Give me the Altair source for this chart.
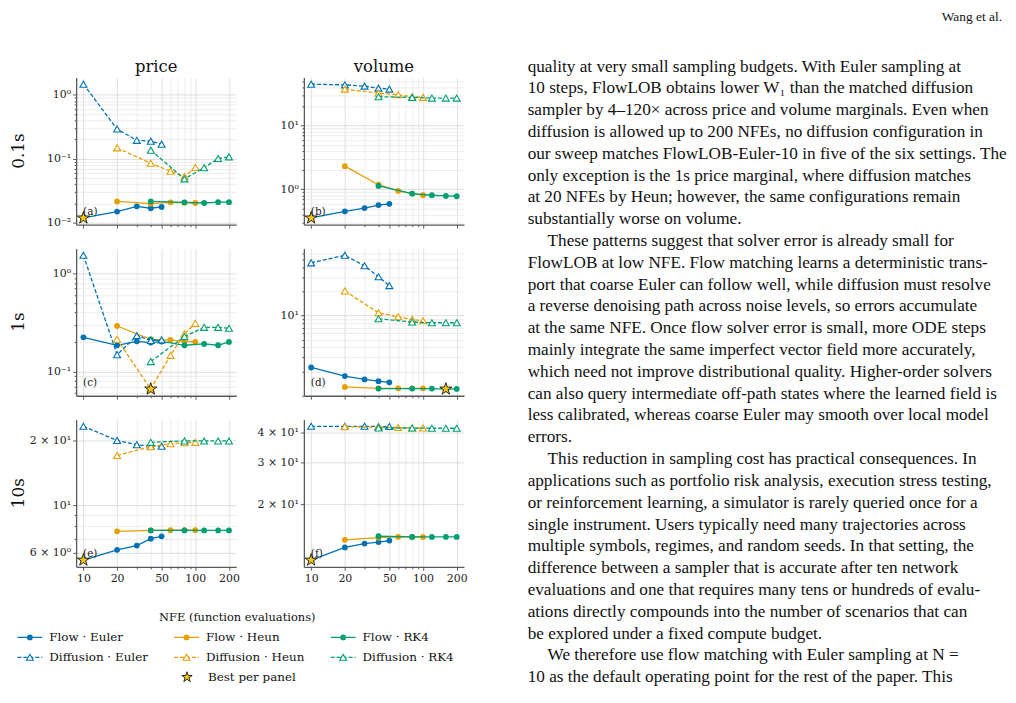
import math
import altair as alt
import numpy as np
import pandas as pd

# ---------------- data ----------------
NFE_EULER = [10, 20, 30, 40, 50]
NFE_HEUN = [20, 40, 60, 80, 100]
NFE_RK4 = [40, 80, 120, 160, 200]

PRICE_01S = {
    "Flow · Euler": [0.0119, 0.0150, 0.0181, 0.0169, 0.0177],
    "Flow · Heun": [0.0216, 0.0199, 0.0209, 0.0206, 0.0204],
    "Flow · RK4": [0.0216, 0.0209, 0.0204, 0.0210, 0.0210],
    "Diffusion · Euler": [1.46, 0.291, 0.194, 0.188, 0.169],
    "Diffusion · Heun": [0.148, 0.085, 0.064, 0.0527, 0.073],
    "Diffusion · RK4": [0.136, 0.0485, 0.0726, 0.101, 0.107],
}
VOLUME_01S = {
    "Flow · Euler": [0.354, 0.45, 0.507, 0.564, 0.592],
    "Flow · Heun": [2.31, 1.18, 0.942, 0.857, 0.807],
    "Flow · RK4": [1.13, 0.857, 0.807, 0.787, 0.778],
    "Diffusion · Euler": [45.0, 43.9, 41.9, 39.0, 37.6],
    "Diffusion · Heun": [37.6, 32.6, 30.7, 28.6, 27.9],
    "Diffusion · RK4": [28.6, 27.9, 27.2, 27.2, 27.2],
}
PRICE_1S = {
    "Flow · Euler": [0.223, 0.185, 0.203, 0.197, 0.202],
    "Flow · Heun": [0.291, 0.213, 0.210, 0.203, 0.200],
    "Flow · RK4": [0.213, 0.185, 0.191, 0.185, 0.200],
    "Diffusion · Euler": [1.54, 0.148, 0.232, 0.207, 0.210],
    "Diffusion · Heun": [0.213, 0.066, 0.146, 0.242, 0.310],
    "Diffusion · RK4": [0.126, 0.227, 0.282, 0.282, 0.276],
}
VOLUME_1S = {
    "Flow · Euler": [2.24, 1.75, 1.59, 1.51, 1.46],
    "Flow · Heun": [1.28, 1.23, 1.23, 1.23, 1.23],
    "Flow · RK4": [1.22, 1.22, 1.22, 1.205, 1.21],
    "Diffusion · Euler": [45.4, 56.5, 41.7, 30.4, 23.6],
    "Diffusion · Heun": [20.2, 10.8, 9.62, 8.92, 8.59],
    "Diffusion · RK4": [9.1, 8.27, 8.11, 8.11, 8.11],
}
PRICE_10S = {
    "Flow · Euler": [5.56, 6.21, 6.5, 7.0, 7.18],
    "Flow · Heun": [7.57, 7.65, 7.67, 7.67, 7.67],
    "Flow · RK4": [7.65, 7.65, 7.65, 7.65, 7.65],
    "Diffusion · Euler": [23.4, 20.1, 19.2, 18.9, 18.9],
    "Diffusion · Heun": [17.1, 18.8, 19.4, 19.6, 19.7],
    "Diffusion · RK4": [19.7, 20.0, 20.0, 20.0, 20.0],
}
VOLUME_10S = {
    "Flow · Euler": [11.67, 13.2, 13.7, 13.9, 14.1],
    "Flow · Heun": [14.2, 14.5, 14.6, 14.6, 14.6],
    "Flow · RK4": [14.7, 14.6, 14.6, 14.6, 14.6],
    "Diffusion · Euler": [42.6, 42.6, 42.6, 42.5, 42.5],
    "Diffusion · Heun": [42.4, 42.2, 42.1, 41.9, 41.9],
    "Diffusion · RK4": [41.9, 41.9, 41.8, 41.8, 41.8],
}

METHODS = ["Flow", "Diffusion"]
SOLVERS = ["Euler", "Heun", "RK4"]
NFE_BY_SOLVER = {"Euler": NFE_EULER, "Heun": NFE_HEUN, "RK4": NFE_RK4}
HORIZONS = ["0.1s", "1s", "10s"]
MARGINALS = ["price", "volume"]
PANEL_TAGS = ["(a)", "(b)", "(c)", "(d)", "(e)", "(f)"]
PANEL_VALUES = [PRICE_01S, VOLUME_01S, PRICE_1S, VOLUME_1S, PRICE_10S, VOLUME_10S]

Y_TICK_LABELS = [
    {0.01: "10⁻²", 0.1: "10⁻¹", 1: "10⁰"},
    {1: "10⁰", 10: "10¹"},
    {0.1: "10⁻¹", 1: "10⁰"},
    {10: "10¹"},
    {6: "6 × 10⁰", 10: "10¹", 20: "2 × 10¹"},
    {20: "2 × 10¹", 30: "3 × 10¹", 40: "4 × 10¹"},
]
X_TICKS = [10, 20, 30, 40, 50, 60, 70, 80, 90, 100, 200]
X_LABELED = [10, 20, 50, 100, 200]
X_LABEL = "NFE (function evaluations)"
BEST_LABEL = "Best per panel"

HEADER = "Wang et al."
TEXT_LINES = [
    "quality at very small sampling budgets. With Euler sampling at",
    "10 steps, FlowLOB obtains lower W\u2081 than the matched diffusion",
    "sampler by 4\u2013120\u00d7 across price and volume marginals. Even when",
    "diffusion is allowed up to 200 NFEs, no diffusion configuration in",
    "our sweep matches FlowLOB-Euler-10 in five of the six settings. The",
    "only exception is the 1s price marginal, where diffusion matches",
    "at 20 NFEs by Heun; however, the same configurations remain",
    "substantially worse on volume.",
    "These patterns suggest that solver error is already small for",
    "FlowLOB at low NFE. Flow matching learns a deterministic trans-",
    "port that coarse Euler can follow well, while diffusion must resolve",
    "a reverse denoising path across noise levels, so errors accumulate",
    "at the same NFE. Once flow solver error is small, more ODE steps",
    "mainly integrate the same imperfect vector field more accurately,",
    "which need not improve distributional quality. Higher-order solvers",
    "can also query intermediate off-path states where the learned field is",
    "less calibrated, whereas coarse Euler may smooth over local model",
    "errors.",
    "This reduction in sampling cost has practical consequences. In",
    "applications such as portfolio risk analysis, execution stress testing,",
    "or reinforcement learning, a simulator is rarely queried once for a",
    "single instrument. Users typically need many trajectories across",
    "multiple symbols, regimes, and random seeds. In that setting, the",
    "difference between a sampler that is accurate after ten network",
    "evaluations and one that requires many tens or hundreds of evalu-",
    "ations directly compounds into the number of scenarios that can",
    "be explored under a fixed compute budget.",
    "We therefore use flow matching with Euler sampling at N =",
    "10 as the default operating point for the rest of the paper. This",
]
PARAGRAPH_STARTS = [9, 19, 28]

# ---------------- styles ----------------
SOLVER_COLORS = {"Euler": "#0072B2", "Heun": "#E69F00", "RK4": "#009E73"}
STAR_FILL = "#F5C518"
GRID_MAJOR = "#d6d6d6"
GRID_MINOR = "#e8e8e8"
AX_COLOR = "#595959"
SERIF = "DejaVu Serif"
BODY = "Liberation Serif"
PW, PH = 161, 148


def star_path():
    pts = []
    for k in range(10):
        r = 1.0 if k % 2 == 0 else 0.382
        a = math.pi / 2 + k * math.pi / 5
        pts.append((r * math.cos(a), -r * math.sin(a)))
    return "M" + "L".join(f"{x:.4f},{y:.4f}" for x, y in pts) + "Z"


STAR = star_path()


def near_any(vals):
    return " || ".join(f"abs(datum.value / {v} - 1) < 1e-6" for v in vals)


def label_expr(mapping):
    expr = "''"
    for v, s in sorted(mapping.items(), reverse=True):
        expr = f"abs(datum.value / {v} - 1) < 1e-6 ? '{s}' : ({expr})"
    return expr


def panel_frame(i):
    rows = []
    for method in METHODS:
        for solver in SOLVERS:
            name = f"{method} · {solver}"
            for n, v in zip(NFE_BY_SOLVER[solver], PANEL_VALUES[i][name]):
                rows.append({"method": method, "solver": solver, "nfe": n, "value": v})
    return pd.DataFrame(rows)


def log_domain(vmin, vmax, frac=0.05):
    lo, hi = math.log10(vmin), math.log10(vmax)
    pad = frac * (hi - lo)
    return [10 ** (lo - pad), 10 ** (hi + pad)]


X_DOMAIN = log_domain(min(X_TICKS), max(X_TICKS))


def make_panel(i):
    row, col = divmod(i, 2)
    df = panel_frame(i)
    ydom = log_domain(df["value"].min(), df["value"].max())
    yticks = []
    for e in range(-3, 3):
        for k in range(1, 10):
            v = round(k * 10.0 ** e, 8)
            if ydom[0] <= v <= ydom[1]:
                yticks.append(v)
    labeled = Y_TICK_LABELS[i]
    ymajor = near_any(list(labeled.keys()))
    xmajor = f"indexof({X_LABELED}, datum.value) >= 0"

    x_axis = alt.Axis(
        values=X_TICKS,
        labels=(row == 2),
        labelExpr=f"{xmajor} ? '' + datum.value : ''",
        labelFont=SERIF,
        labelFontSize=11,
        title=None,
        tickSize={"condition": {"test": xmajor, "value": 3.5}, "value": 2},
        gridColor={"condition": {"test": xmajor, "value": GRID_MAJOR}, "value": GRID_MINOR},
    )
    y_axis = alt.Axis(
        values=yticks,
        labelExpr=label_expr(labeled),
        labelFont=SERIF,
        labelFontSize=11,
        title=None,
        tickSize={"condition": {"test": ymajor, "value": 3.5}, "value": 2},
        gridColor={"condition": {"test": ymajor, "value": GRID_MAJOR}, "value": GRID_MINOR},
    )
    x_enc = alt.X("nfe:Q", scale=alt.Scale(type="log", domain=X_DOMAIN, nice=False), axis=x_axis)
    y_enc = alt.Y("value:Q", scale=alt.Scale(type="log", domain=ydom, nice=False, zero=False), axis=y_axis)

    layers = []
    for method in METHODS:
        for solver in SOLVERS:
            sdf = df[(df["method"] == method) & (df["solver"] == solver)]
            c = SOLVER_COLORS[solver]
            base = alt.Chart(sdf).encode(x=x_enc, y=y_enc)
            if method == "Flow":
                layers.append(base.mark_line(color=c, strokeWidth=1.3))
                layers.append(base.mark_point(shape="circle", filled=True, color=c, size=34, opacity=1))
            else:
                layers.append(base.mark_line(color=c, strokeWidth=1.3, strokeDash=[4, 2]))
                layers.append(base.mark_point(shape="triangle-up", filled=True, fill="white",
                                              stroke=c, strokeWidth=1.1, size=49, opacity=1))
    best = df.loc[[df["value"].idxmin()]]
    layers.append(
        alt.Chart(best).mark_point(shape=STAR, filled=True, fill=STAR_FILL, stroke="black",
                                   strokeWidth=0.8, size=165, opacity=1).encode(x=x_enc, y=y_enc)
    )
    meta = pd.DataFrame({"tag": [PANEL_TAGS[i]], "title": [MARGINALS[col]], "horizon": [HORIZONS[row]]})
    layers.append(
        alt.Chart(meta).mark_text(align="left", baseline="middle", font=SERIF, fontSize=10.5, color="#222")
        .encode(x=alt.value(7), y=alt.value(PH - 13), text="tag:N")
    )
    if row == 0:
        layers.append(
            alt.Chart(meta).mark_text(align="center", baseline="middle", font=SERIF, fontSize=16.5, color="#111")
            .encode(x=alt.value(PW / 2), y=alt.value(-11), text="title:N")
        )
    if col == 0:
        layers.append(
            alt.Chart(meta).mark_text(align="center", baseline="middle", font=SERIF, fontSize=17, angle=270,
                                      color="#111")
            .encode(x=alt.value(-57), y=alt.value(PH / 2), text="horizon:N")
        )
    return alt.layer(*layers).properties(width=PW, height=PH)


panels = [make_panel(i) for i in range(6)]
grid = alt.concat(*panels, columns=2, spacing={"row": 17, "column": 16}).resolve_scale(
    x="independent", y="independent"
)

# ---------------- legend block ----------------
leg_rows = []
for si, solver in enumerate(SOLVERS):
    for mi, method in enumerate(METHODS):
        leg_rows.append({"label": f"{method} · {solver}", "method": method, "solver": solver,
                         "col": si, "row": mi})
leg_df = pd.DataFrame(leg_rows)
best_df = pd.DataFrame([{"label": BEST_LABEL, "col": 1, "row": 2}])
xl_df = pd.DataFrame([{"label": X_LABEL}])

lx = alt.X("col:Q", scale=alt.Scale(domain=[0, 2], range=[-59, 256], nice=False, zero=False), axis=None)
lx2 = alt.X2("col:Q")
ly = alt.Y("row:Q", scale=alt.Scale(domain=[0, 2], range=[19, 59], nice=False, zero=False), axis=None)
lcolor = alt.Color("solver:N", scale=alt.Scale(domain=SOLVERS, range=[SOLVER_COLORS[s] for s in SOLVERS]),
                   legend=None)
ldash = alt.StrokeDash("method:N", scale=alt.Scale(domain=METHODS, range=[[1, 0], [4, 2]]), legend=None)

leg_layers = [
    alt.Chart(leg_df).mark_rule(x2Offset=25, strokeWidth=1.3).encode(x=lx, x2=lx2, y=ly, color=lcolor,
                                                                        strokeDash=ldash),
    alt.Chart(leg_df).transform_filter("datum.method == 'Flow'").mark_point(
        shape="circle", filled=True, size=34, opacity=1, xOffset=12.5).encode(x=lx, y=ly, color=lcolor),
    alt.Chart(leg_df).transform_filter("datum.method == 'Diffusion'").mark_point(
        shape="triangle-up", filled=True, fill="white", strokeWidth=1.1, size=49, opacity=1,
        xOffset=12.5).encode(x=lx, y=ly, stroke=alt.Stroke("solver:N", scale=alt.Scale(
            domain=SOLVERS, range=[SOLVER_COLORS[s] for s in SOLVERS]), legend=None)),
    alt.Chart(leg_df).mark_text(align="left", baseline="middle", dx=32, font=SERIF, fontSize=12,
                                color="#111").encode(x=lx, y=ly, text="label:N"),
    alt.Chart(best_df).mark_point(shape=STAR, filled=True, fill=STAR_FILL, stroke="black", strokeWidth=0.8,
                                  size=120, opacity=1, xOffset=13).encode(x=lx, y=ly),
    alt.Chart(best_df).mark_text(align="left", baseline="middle", dx=34, font=SERIF, fontSize=12,
                                 color="#111").encode(x=lx, y=ly, text="label:N"),
    alt.Chart(xl_df).mark_text(align="center", baseline="middle", font=SERIF, fontSize=11.5,
                               color="#111").encode(x=alt.value(162), y=alt.value(0), text="label:N"),
]
legend = alt.layer(*leg_layers).properties(width=380, height=60)

left_block = alt.vconcat(grid, legend, spacing=28)

# ---------------- text block ----------------
txt_df = pd.DataFrame({
    "line": list(range(1, len(TEXT_LINES) + 1)),
    "text": TEXT_LINES,
    "indent": [1 if i + 1 in PARAGRAPH_STARTS else 0 for i in range(len(TEXT_LINES))],
})
LINE_H = 21.93
ty = alt.Y("line:Q", scale=alt.Scale(domain=[1, len(TEXT_LINES)], nice=False, zero=False,
                                     range=[-11, -11 + (len(TEXT_LINES) - 1) * LINE_H]), axis=None)
text_layers = [
    alt.Chart(txt_df).transform_filter("datum.indent == 0").mark_text(
        align="left", baseline="middle", font=BODY, fontSize=17.3, color="#111").encode(
        x=alt.value(0), y=ty, text="text:N"),
    alt.Chart(txt_df).transform_filter("datum.indent == 1").mark_text(
        align="left", baseline="middle", font=BODY, fontSize=17.3, color="#111").encode(
        x=alt.value(20), y=ty, text="text:N"),
    alt.Chart(pd.DataFrame({"h": [HEADER]})).mark_text(
        align="right", baseline="middle", font=BODY, fontSize=13.5, color="#111").encode(
        x=alt.value(477), y=alt.value(-61), text="h:N"),
]
text_block = alt.layer(*text_layers).properties(width=466, height=604)

chart = (
    alt.hconcat(left_block, text_block, spacing=59)
    .properties(padding={"left": 1.5, "top": -1, "right": 0, "bottom": 0})
    .configure_view(stroke="transparent")
    .configure_axis(
        labelFont=SERIF, labelFontSize=11, labelColor="#222", domainColor=AX_COLOR, domainWidth=1.3,
        tickColor=AX_COLOR, tickWidth=1, gridWidth=0.8, labelOverlap=False, labelPadding=2,
    )
)

chart.save("out.html", embed_options={"renderer": "svg", "actions": False})
